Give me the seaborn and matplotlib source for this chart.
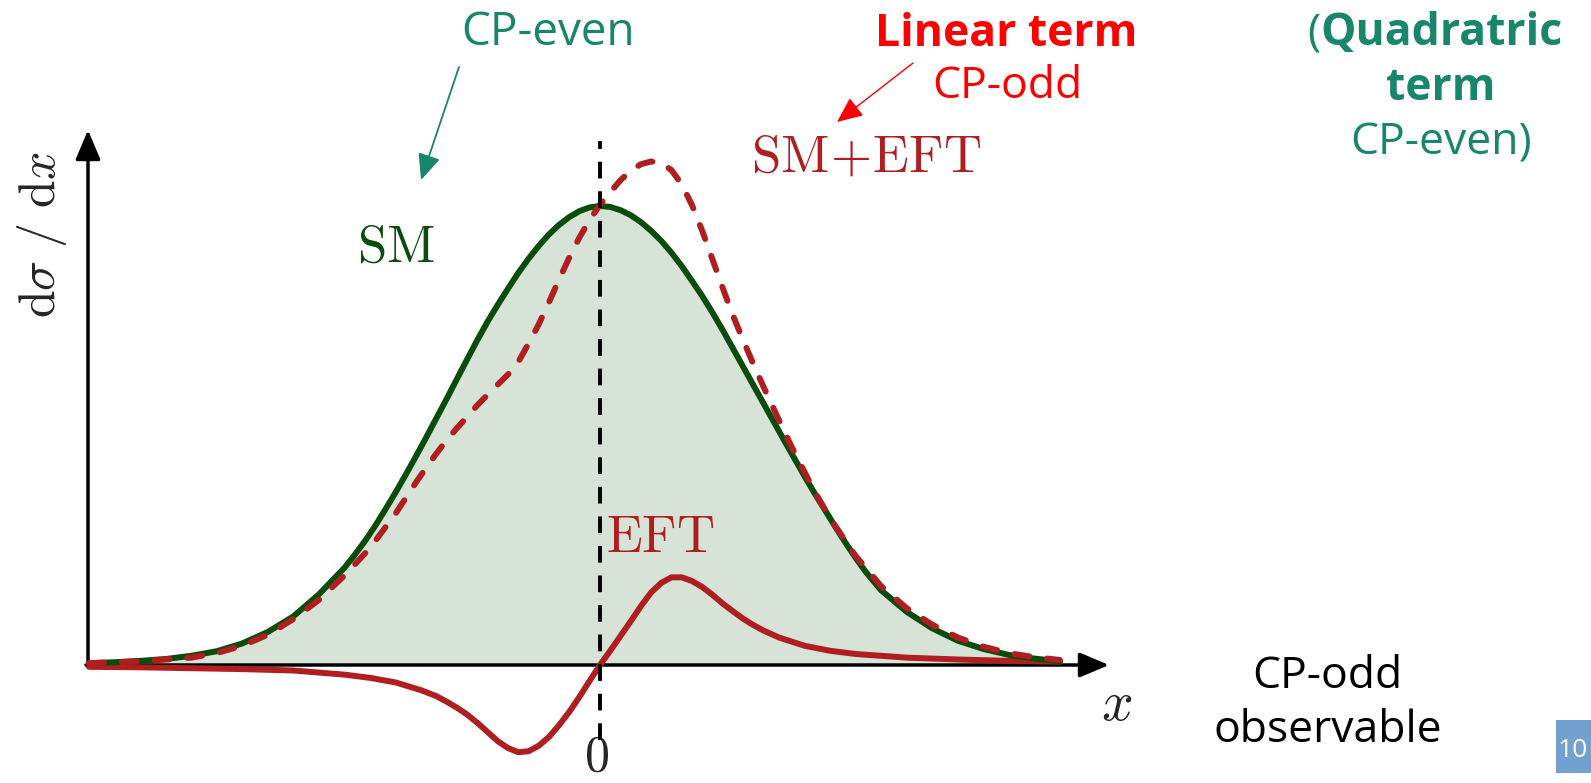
import matplotlib
matplotlib.use("Agg")
import matplotlib.pyplot as plt
import seaborn as sns
from matplotlib.patches import Rectangle
from matplotlib.transforms import Affine2D

# ---- distributions (x: observable, y: in units of the SM peak) ----
sm_x = [-5.0, -4.75, -4.5, -4.25, -4.0, -3.75, -3.5, -3.25, -3.0, -2.75,
        -2.5, -2.4, -2.3, -2.2, -2.1, -2.0, -1.9, -1.8, -1.7, -1.6,
        -1.5, -1.4, -1.3, -1.2, -1.1, -1.0, -0.9, -0.8, -0.7, -0.6,
        -0.5, -0.4, -0.3, -0.2, -0.1, 0.0,
        0.1, 0.2, 0.3, 0.4, 0.5, 0.6, 0.7, 0.8, 0.9, 1.0,
        1.1, 1.2, 1.3, 1.4, 1.5, 1.6, 1.7, 1.8, 1.9, 2.0,
        2.1, 2.2, 2.3, 2.4, 2.5, 2.6, 2.75, 3.0, 3.25, 3.5, 3.75, 4.0, 4.25, 4.5]
sm_y = [0.004, 0.006, 0.009, 0.013, 0.020, 0.030, 0.047, 0.072, 0.106, 0.154,
        0.212, 0.240, 0.270, 0.303, 0.339, 0.376, 0.415, 0.455, 0.496, 0.538,
        0.580, 0.623, 0.666, 0.708, 0.748, 0.785, 0.820, 0.854, 0.885, 0.913,
        0.938, 0.959, 0.976, 0.989, 0.997, 1.000,
        0.998, 0.991, 0.980, 0.965, 0.946, 0.924, 0.898, 0.869, 0.837, 0.804,
        0.768, 0.730, 0.690, 0.650, 0.610, 0.570, 0.530, 0.490, 0.451, 0.412,
        0.374, 0.338, 0.302, 0.267, 0.234, 0.203, 0.163, 0.116, 0.080, 0.053,
        0.035, 0.022, 0.014, 0.008]

eft_x = [-5.0, -4.5, -4.0, -3.5, -3.0, -2.5, -2.25, -2.0, -1.75, -1.6,
         -1.5, -1.4, -1.3, -1.2, -1.1, -1.0, -0.9, -0.8, -0.7, -0.6,
         -0.5, -0.4, -0.3, -0.2, -0.1, 0.0,
         0.1, 0.2, 0.3, 0.4, 0.5, 0.6, 0.7, 0.8, 0.9, 1.0,
         1.1, 1.2, 1.3, 1.4, 1.5, 1.6, 1.75, 2.0, 2.25, 2.5, 3.0, 3.5, 4.0, 4.5]
eft_y = [-0.004, -0.005, -0.007, -0.009, -0.012, -0.021, -0.028, -0.038, -0.055, -0.068,
         -0.080, -0.093, -0.108, -0.126, -0.146, -0.166, -0.181, -0.190, -0.188, -0.176,
         -0.157, -0.131, -0.102, -0.069, -0.034, 0.000,
         0.031, 0.063, 0.095, 0.128, 0.158, 0.179, 0.191, 0.191, 0.183, 0.170,
         0.153, 0.134, 0.117, 0.101, 0.087, 0.075, 0.060, 0.042, 0.031, 0.024,
         0.016, 0.012, 0.009, 0.007]

sum_x = [-5.0, -4.5, -4.0, -3.75, -3.5, -3.25, -3.0, -2.75, -2.5, -2.25,
         -2.0, -1.9, -1.8, -1.7, -1.6, -1.5, -1.4, -1.3, -1.2, -1.1,
         -1.0, -0.9, -0.8, -0.7, -0.6, -0.5, -0.4, -0.3, -0.2, -0.1, 0.0,
         0.1, 0.2, 0.3, 0.4, 0.5, 0.6, 0.7, 0.8, 0.9, 1.0,
         1.1, 1.2, 1.3, 1.4, 1.5, 1.6, 1.7, 1.8, 1.9, 2.0,
         2.1, 2.25, 2.5, 2.75, 3.0, 3.25, 3.5, 3.75, 4.0, 4.25, 4.5]
sum_y = [0.004, 0.008, 0.016, 0.026, 0.042, 0.066, 0.100, 0.142, 0.195, 0.255,
         0.330, 0.364, 0.398, 0.430, 0.461, 0.490, 0.516, 0.541, 0.566, 0.589,
         0.611, 0.633, 0.660, 0.700, 0.742, 0.790, 0.840, 0.888, 0.932, 0.970, 1.003,
         1.030, 1.056, 1.077, 1.091, 1.097, 1.094, 1.078, 1.047, 1.002, 0.946,
         0.884, 0.822, 0.762, 0.708, 0.656, 0.606, 0.558, 0.510, 0.464, 0.421,
         0.378, 0.320, 0.238, 0.172, 0.124, 0.088, 0.060, 0.040, 0.026, 0.017, 0.011]

# ---- styling ----
W, H, DPI = 1591, 783, 100
SM_GREEN = "#0a4c0c"
FILL_GREEN = "#d6e3d6"
EFT_RED = "#b01e20"
TEAL = "#18866a"
RED = "#ff0000"

sns.set_theme(style="white")
plt.rcParams["font.family"] = ["Open Sans", "DejaVu Sans"]
plt.rcParams["mathtext.fontset"] = "cm"

fig = plt.figure(figsize=(W / DPI, H / DPI), dpi=DPI)
ax = fig.add_axes([0, 0, 1, 1])
ax.set_xlim(-5.871, 9.697)
ax.set_ylim(-0.2571, 1.4488)
ax.axis("off")

# pixel coordinates measured from the top-left corner
px = Affine2D().scale(1, -1).translate(0, H)

# SM distribution with shaded area, EFT term and their sum
ax.fill_between(sm_x, sm_y, 0, color=FILL_GREEN, lw=0, zorder=1)
sns.lineplot(x=sm_x, y=sm_y, ax=ax, color=SM_GREEN, zorder=4)
sns.lineplot(x=eft_x, y=eft_y, ax=ax, color=EFT_RED, zorder=3)
sns.lineplot(x=sum_x, y=sum_y, ax=ax, color=EFT_RED, zorder=5)
for ln in ax.lines:
    ln.set_linewidth(4.3)
    ln.set_solid_capstyle("round")
    ln.set_solid_joinstyle("round")
dashed = ax.lines[-1]
dashed.set_dashes([2.5, 3.0])
dashed.set_dash_capstyle("round")

# coordinate axes with arrow heads
axis_arrow = dict(arrowstyle="-|>,head_length=0.9,head_width=0.38", lw=2.5, color="black",
                  mutation_scale=20, shrinkA=0, shrinkB=0)
ax.annotate("", xy=(1109, 665), xytext=(86, 665), xycoords=px, textcoords=px,
            arrowprops=axis_arrow, zorder=2)
ax.annotate("", xy=(88, 130), xytext=(88, 667), xycoords=px, textcoords=px,
            arrowprops=axis_arrow, zorder=2)

# x = 0 reference line
ax.vlines(0, -0.163, 1.142, colors="black", lw=2.8, linestyles=(0, (4.3, 3.3)), zorder=6)

# curve labels
ax.text(396, 262, r"$\mathrm{SM}$", transform=px, fontsize=38, color=SM_GREEN,
        ha="center", va="baseline", math_fontfamily="cm")
ax.text(606, 552, r"$\mathrm{EFT}$", transform=px, fontsize=38, color=EFT_RED,
        ha="left", va="baseline", math_fontfamily="cm")
ax.text(866, 172, r"$\mathrm{SM\!+\!EFT}$", transform=px, fontsize=38, color=EFT_RED,
        ha="center", va="baseline", math_fontfamily="cm")
ax.text(42, 235, r"$\mathrm{d}\sigma\ /\ \mathrm{d}x$", transform=px, fontsize=36,
        rotation=90, ha="center", va="center", math_fontfamily="cm")
ax.text(1117, 720, r"$x$", transform=px, fontsize=40, ha="center", va="baseline",
        math_fontfamily="cm")
ax.text(597, 771, r"$0$", transform=px, fontsize=36, ha="center", va="baseline",
        math_fontfamily="cm")

# annotations
ax.text(548, 45, "CP-even", transform=px, fontsize=33, color=TEAL, ha="center", va="baseline")
ax.annotate("", xy=(421, 180), xytext=(459, 67), xycoords=px, textcoords=px,
            arrowprops=dict(arrowstyle="-|>,head_length=0.8,head_width=0.35", lw=1.3,
                            color=TEAL, mutation_scale=20, shrinkA=0, shrinkB=0))

ax.text(1006, 46, "Linear term", transform=px, fontsize=32, color=RED, fontweight="bold",
        ha="center", va="baseline")
ax.text(1007, 98, "CP-odd", transform=px, fontsize=32, color=RED, ha="center", va="baseline")
ax.annotate("", xy=(837, 122), xytext=(913, 63), xycoords=px, textcoords=px,
            arrowprops=dict(arrowstyle="-|>,head_length=0.8,head_width=0.35", lw=1.0,
                            color=RED, mutation_scale=20, shrinkA=0, shrinkB=0))

ax.text(1320, 45, "(", transform=px, fontsize=32, color=TEAL, ha="right", va="baseline")
ax.text(1320, 45, "Quadratric", transform=px, fontsize=32, color=TEAL, fontweight="bold",
        ha="left", va="baseline")
ax.text(1441, 100, "term", transform=px, fontsize=32, color=TEAL, fontweight="bold",
        ha="center", va="baseline")
ax.text(1441, 155, "CP-even)", transform=px, fontsize=32, color=TEAL, ha="center",
        va="baseline")

ax.text(1327, 688, "CP-odd", transform=px, fontsize=32, color="black", ha="center",
        va="baseline")
ax.text(1328, 742, "observable", transform=px, fontsize=32, color="black", ha="center",
        va="baseline")

# page number badge
fig.patches.append(Rectangle((1556, H - 773), 60, 53, transform=None,
                             facecolor="#72a0cf", edgecolor="none"))
fig.text(1573, H - 757, "10", transform=None, fontsize=19, color="white",
         ha="center", va="baseline")

fig.savefig("out.png", dpi=DPI)
